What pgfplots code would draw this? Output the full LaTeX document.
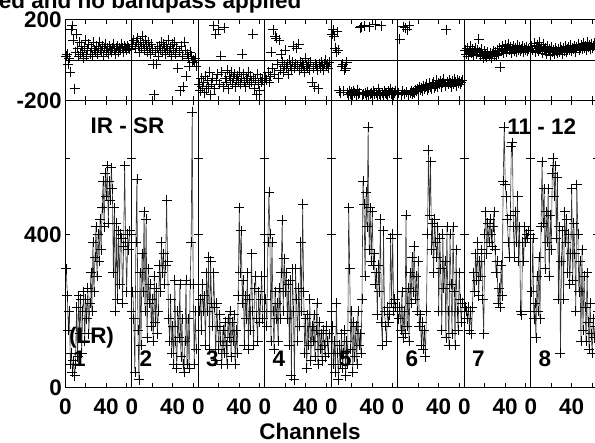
\documentclass[border=0pt]{standalone}
\usepackage{fontspec}
\setmainfont{Liberation Sans}
\usepackage{pgfplots}
\usepackage{pgfplotstable}
\pgfplotsset{compat=1.18}
\newcommand\bigf{\fontsize{22.5}{26}\selectfont\bfseries}

\pgfplotstableread{
ch a1 a2 a3 a4 a5 a6 a7 a8
1 310 250 200 230 160 180 210 250
2 240 180 230 160 60 210 200 390
3 150 40 150 380 120 150 180 180
4 200 380 270 510 40 250 210 220
5 60 545 200 400 220 130 150 130
6 90 150 240 120 90 200 200 290
7 40 20 110 380 20 140 140 200
8 70 300 300 200 110 450 210 340
9 30 110 200 100 60 160 300 180
10 60 350 340 250 140 260 250 420
11 210 250 100 180 50 120 350 590
12 80 460 330 220 90 300 280 430
13 240 200 220 120 150 220 380 520
14 140 440 160 260 30 340 240 310
15 230 130 300 180 120 250 330 460
16 90 310 210 300 60 370 290 380
17 200 220 70 437 470 230 360 520
18 250 270 220 200 310 290 230 290
19 120 160 160 337 100 200 140 450
20 230 230 100 250 200 330 400 360
21 180 120 190 300 40 160 460 560
22 260 290 120 180 170 190 350 600
23 140 170 60 270 80 110 430 500
24 220 260 150 110 160 170 380 580
25 300 140 90 280 60 100 440 390
26 200 200 170 30 200 150 400 550
27 380 320 110 310 110 80 370 230
28 250 250 60 200 140 200 420 420
29 340 380 180 20 90 400 460 90
30 420 300 130 310 230 620 360 330
31 290 350 200 230 540 450 300 410
32 400 270 80 120 480 590 330 230
33 330 320 170 260 290 360 220 460
34 440 490 120 160 510 430 260 380
35 360 330 190 380 420 300 210 440
36 470 180 60 200 680 440 320 300
37 540 120 150 480 360 380 240 400
38 420 230 90 250 470 340 540 270
39 560 90 240 90 330 420 680 350
40 500 160 470 180 460 200 530 520
41 580 60 300 50 320 390 500 280
42 430 280 410 190 350 310 440 430
43 540 120 220 110 270 150 380 350
44 490 50 280 230 300 400 340 200
45 575 200 110 70 190 260 450 530
46 520 130 240 160 320 330 630 400
47 300 270 180 120 250 130 640 250
48 470 80 300 190 440 420 420 330
49 200 180 100 80 170 200 340 120
50 430 60 230 150 110 110 460 360
51 230 40 150 220 410 400 380 150
52 410 120 350 60 200 270 500 290
53 270 280 200 170 160 140 330 210
54 400 60 110 100 120 420 420 120
55 390 180 260 140 210 250 200 300
56 220 50 290 70 170 110 190 170
57 370 270 180 150 190 360 380 100
58 580 380 120 110 390 200 330 220
59 380 720 250 80 220 150 420 140
60 250 270 170 160 400 300 380 90
61 400 60 230 120 200 230 400 180
62 360 200 290 90 230 170 390 130
63 410 100 180 140 210 220 410 160
}\amps

\pgfplotstableread{
ch p1 p2 p3 p4 p5 p6 p7 p8
1 20 80 -120 -90 130 -160 50 70
2 30 100 -150 -100 150 105 30 50
3 -20 60 -90 -60 120 -170 60 85
4 10 90 -130 -110 60 -150 20 40
5 -60 110 -110 -80 40 165 40 60
6 150 70 -160 40 140 -165 70 75
7 170 40 -80 -40 50 160 35 45
8 100 90 -140 150 -150 -155 55 90
9 -140 60 -100 -70 -160 150 25 55
10 40 120 -130 120 -30 -170 45 65
11 130 80 -60 110 -20 170 60 35
12 60 50 -170 -20 -150 -160 30 80
13 20 100 -120 -90 -50 -150 50 50
14 90 70 -90 100 -40 -165 105 60
15 30 40 170 -50 -10 -155 40 30
16 70 90 -140 30 -160 -160 20 70
17 40 60 130 -10 -170 -145 55 45
18 10 30 -100 -60 -150 -150 30 55
19 60 80 -70 -30 -165 -140 10 25
20 100 50 150 50 -155 -155 45 65
21 20 -20 -120 -40 -175 -130 25 40
22 50 -170 20 -20 -150 -145 15 50
23 80 40 -60 -70 -160 -135 40 30
24 30 -20 -130 0 -170 -150 20 60
25 60 60 160 -30 -145 -125 35 45
26 20 20 -90 -50 -165 -140 10 35
27 90 70 -110 -10 -160 -130 30 55
28 50 50 -50 70 160 -120 45 40
29 40 90 -140 -40 165 -145 20 65
30 70 40 -80 -20 -170 -135 40 50
31 30 80 -100 60 -165 -115 25 30
32 60 60 -60 -30 170 -130 50 60
33 90 30 -120 80 -160 -140 30 45
34 50 70 -90 -50 -170 -120 60 70
35 40 50 -70 -10 -155 -110 -35 40
36 70 100 -130 -40 -175 -135 45 55
37 20 40 -100 -20 165 -125 70 65
38 60 60 -80 -30 -165 -100 35 50
39 80 20 -110 -60 -160 -130 55 75
40 40 80 -60 10 -170 -115 75 45
41 60 50 -120 -30 -150 -120 40 60
42 30 90 -90 -40 -165 -105 60 55
43 70 30 30 -20 175 -130 80 70
44 50 60 -70 -50 -160 -115 50 40
45 40 -40 -110 -10 -170 -95 65 65
46 60 40 -130 -110 -140 -125 35 80
47 80 -150 -90 -40 -165 150 55 50
48 50 70 -100 -130 -175 -110 70 60
49 30 20 -60 -20 170 -120 45 75
50 60 -130 -120 -30 -160 -100 60 55
51 70 90 -80 -50 -170 -115 40 85
52 40 50 -110 -140 -150 -130 75 60
53 60 -80 130 -20 -160 -105 50 70
54 50 30 -90 -40 -165 -120 65 50
55 80 10 -140 -10 -170 -95 45 90
56 60 -30 -100 -30 -150 -110 55 65
57 40 40 -170 -50 -160 -125 70 75
58 70 20 -70 -20 -140 -100 40 55
59 60 -10 -120 0 -165 -115 60 80
60 50 0 -150 -30 -155 -105 50 60
61 70 -10 -90 -20 -170 -120 65 70
62 60 10 -110 -40 -160 -110 45 85
63 55 -30 -100 -10 -150 -100 55 65
}\phs

\pgfplotsset{
  base/.style={scale only axis, width=66.5pt, xmin=0, xmax=65, xtick={0,20,40,60},
    tick align=inside, major tick length=4.5pt,
    axis line style={line width=0.8pt, black},
    tick style={line width=0.7pt, black},
    tick label style={font=\bigf}, xticklabels={}, yticklabels={}, clip=true},
  amp/.style={base, height=286.6pt, ymin=0, ymax=750, ytick={0,200,400,600},
    xticklabels={0,,40,}, xticklabel style={yshift=-8pt}},
  phase/.style={base, height=81pt, ymin=-200, ymax=200, ytick={-200,200},
    extra y ticks={0}, extra y tick labels={},
    extra y tick style={grid=major, major grid style={black, line width=0.7pt}}},
  ampline/.style={black!80, line width=0.6pt, mark=+, mark size=5pt,
    mark options={black, line width=0.7pt, solid}},
  phmark/.style={only marks, mark=+, mark size=5pt, mark options={black, line width=0.7pt}},
}

\begin{document}
\begin{tikzpicture}[x=1pt,y=1pt]
\useasboundingbox (0,0) rectangle (595,443);
\clip (0,0) rectangle (595,443);

% panel 1
\begin{axis}[amp, at={(65.3pt,55.7pt)}, anchor=south west, yticklabels={0,,400,}]
\addplot[ampline] table[x index=0, y index=1] {\amps};
\end{axis}
\begin{axis}[phase, at={(65.3pt,342.3pt)}, anchor=south west, yticklabels={-200,200}]
\addplot[phmark] table[x index=0, y index=1] {\phs};
\end{axis}

\foreach \k in {2,...,8} {
  \pgfmathsetmacro\xpos{65.3+66.5*(\k-1)}
  \begin{axis}[amp, at={(\xpos pt,55.7pt)}, anchor=south west]
  \addplot[ampline] table[x index=0, y index=\k] {\amps};
  \end{axis}
  \begin{axis}[phase, at={(\xpos pt,342.3pt)}, anchor=south west]
  \addplot[phmark] table[x index=0, y index=\k] {\phs};
  \end{axis}
}

\node[font=\bigf, anchor=base east] at (305,434.5) {calibrated and no bandpass applied};
\node[font=\bigf] at (127.5,317.4) {IR - SR};
\node[font=\bigf] at (541.7,316.5) {11 - 12};
\node[font=\bigf, anchor=base] at (91.5,99) {(LR)};
\foreach \k in {1,...,8} {
  \pgfmathsetmacro\lx{79.3+66.5*(\k-1)}
  \node[font=\bigf, anchor=base] at (\lx,76) {\k};
}
\node[font=\bigf, anchor=base] at (310,3.5) {Channels};
\end{tikzpicture}
\end{document}
